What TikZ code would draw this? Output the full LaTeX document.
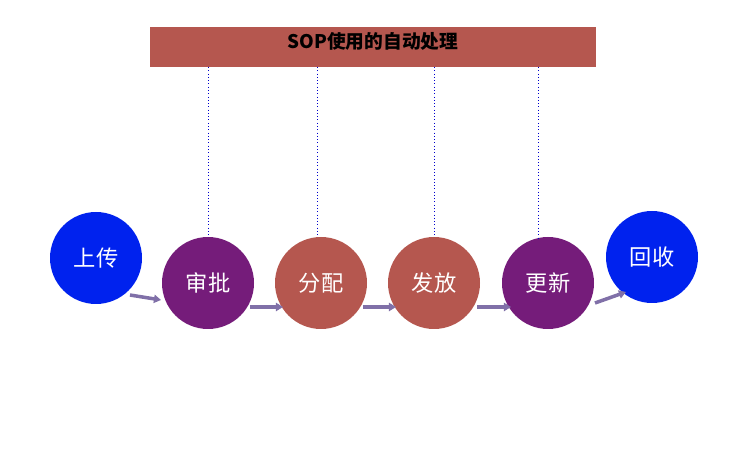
\documentclass[tikz,border=0pt]{standalone}
\usepackage{fontspec}
\newfontfamily\cjk{Noto Sans CJK SC}
\usetikzlibrary{arrows.meta}
\definecolor{stepblue}{RGB}{0,34,238}
\definecolor{steppurple}{RGB}{117,28,122}
\definecolor{stepred}{RGB}{181,87,79}
\definecolor{arrowgrey}{RGB}{128,112,168}
\tikzset{
  stage/.style={circle, minimum size=92*0.03cm, inner sep=0pt, text=white, font=\cjk\fontsize{19}{22}\selectfont},
  link/.style={dotted, thick, blue!80!black},
  flow/.style={-{Triangle[length=6pt,width=7pt]}, line width=3pt, arrowgrey}
}
\begin{document}
\begin{tikzpicture}[x=0.03cm,y=-0.03cm]
	\useasboundingbox (0,0) rectangle (750,457);
	
	\node (bar) [fill=stepred, minimum width=446*0.03cm, minimum height=40*0.03cm, inner sep=0pt] at (373,47) {};
	\node (title) at (373,41) {\cjk\bfseries\fontsize{16}{19}\selectfont SOP使用的自动处理};
	
	\node (up) [stage, fill=stepblue] at (96,258) {上传};
	\node (ap) [stage, fill=steppurple] at (208,283) {审批};
	\node (di) [stage, fill=stepred] at (321,283) {分配};
	\node (is) [stage, fill=stepred] at (434,283) {发放};
	\node (re) [stage, fill=steppurple] at (548,283) {更新};
	\node (ba) [stage, fill=stepblue] at (652,257) {回收};
	
	% dotted links from the bar
	\draw [link] (208,67) -- (ap.north);
	\draw [link] (317,67) -- (317,237);
	\draw [link] (434,67) -- (is.north);
	\draw [link] (538,67) -- (538,238);
	
	% flow arrows
	\coordinate (a1) at (130,295); \coordinate (b1) at (161,300);
	\coordinate (a2) at (250,307); \coordinate (b2) at (283,307);
	\coordinate (a3) at (363,307); \coordinate (b3) at (396,307);
	\coordinate (a4) at (477,307); \coordinate (b4) at (511,307);
	\coordinate (a5) at (595,303); \coordinate (b5) at (626,292);
	\foreach \i in {1,...,5}
		\draw [flow] (a\i) -- (b\i);
\end{tikzpicture}
\end{document}
